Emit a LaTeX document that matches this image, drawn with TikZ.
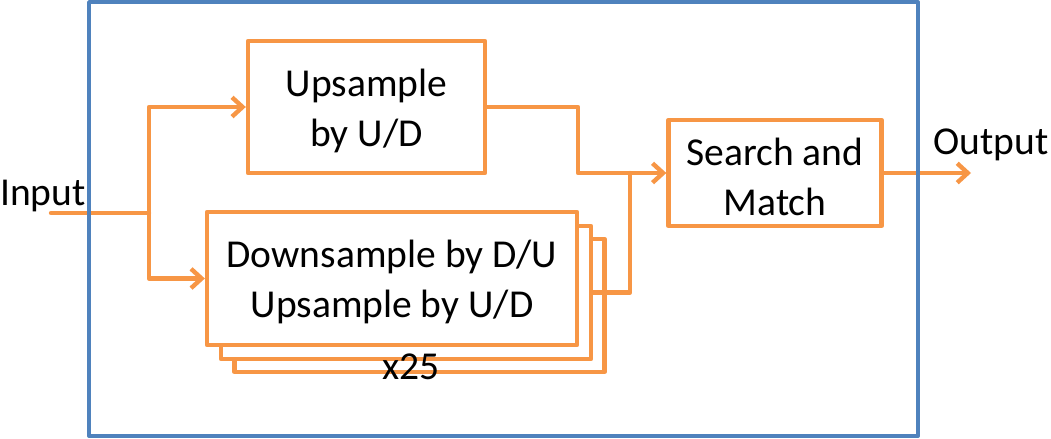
\documentclass[tikz,border=0pt]{standalone}
\usepackage{fontspec}
\setmainfont{Carlito}
\usetikzlibrary{arrows.meta}
\definecolor{accorange}{rgb}{0.97,0.59,0.27}
\definecolor{accblue}{rgb}{0.31,0.51,0.74}

\begin{document}
\begin{tikzpicture}[line cap=round,line join=round,>={Straight Barb[length=6pt,width=11pt]},x=0.02cm,y=-0.02cm,
  blockbox/.style={draw=accorange,line width=2.5pt,fill=white,align=center,inner sep=0pt},
  wire/.style={draw=accorange,line width=2.5pt},
  lbl/.style={font=\fontsize{22.5}{28.5}\selectfont}]
\useasboundingbox (0,0) rectangle (1051,439);
\tikzset{every node/.append style={font=\fontsize{22.5}{28.5}\selectfont}}
% blocks
\node[blockbox,minimum width=4.74cm,minimum height=2.64cm] (up) at (366.5,107) {\strut Upsample\\by U/D};
\node[blockbox,minimum width=7.4cm,minimum height=2.66cm] (down3) at (419.5,305.5) {};
\node[blockbox,minimum width=7.4cm,minimum height=2.66cm] (down2) at (406,292.5) {};
\node[blockbox,minimum width=7.4cm,minimum height=2.66cm] (down) at (392,278.5) {\strut Downsample by D/U\\Upsample by U/D};
\node[blockbox,minimum width=4.26cm,minimum height=2.12cm] (search) at (775,173) {\strut Search and\\Match};
\draw (411,367) node[lbl] (rep) {x25};
\draw (43,196) node[lbl] (inlbl) {Input};
\draw (991,145) node[lbl] (outlbl) {Output};
% wires
\coordinate (in) at (51,213);
\coordinate (split) at (149,213);
\coordinate (bend) at (578,107);
\coordinate (merge) at (630,173);
\coordinate (out) at (971,173);
\draw[wire] (in) -- (split);
\draw[wire,->] (split) |- (up.west);
\draw[wire,->] (split) |- (down.west);
\draw[wire,->] (up.east) -- (bend) |- (search.west);
\draw[wire] (down2.east) -| (merge);
\draw[wire,->] (search.east) -- (out);
% frame
\draw[color=accblue,line width=2.2pt] (89,2) rectangle (918,436);
\end{tikzpicture}
\end{document}
